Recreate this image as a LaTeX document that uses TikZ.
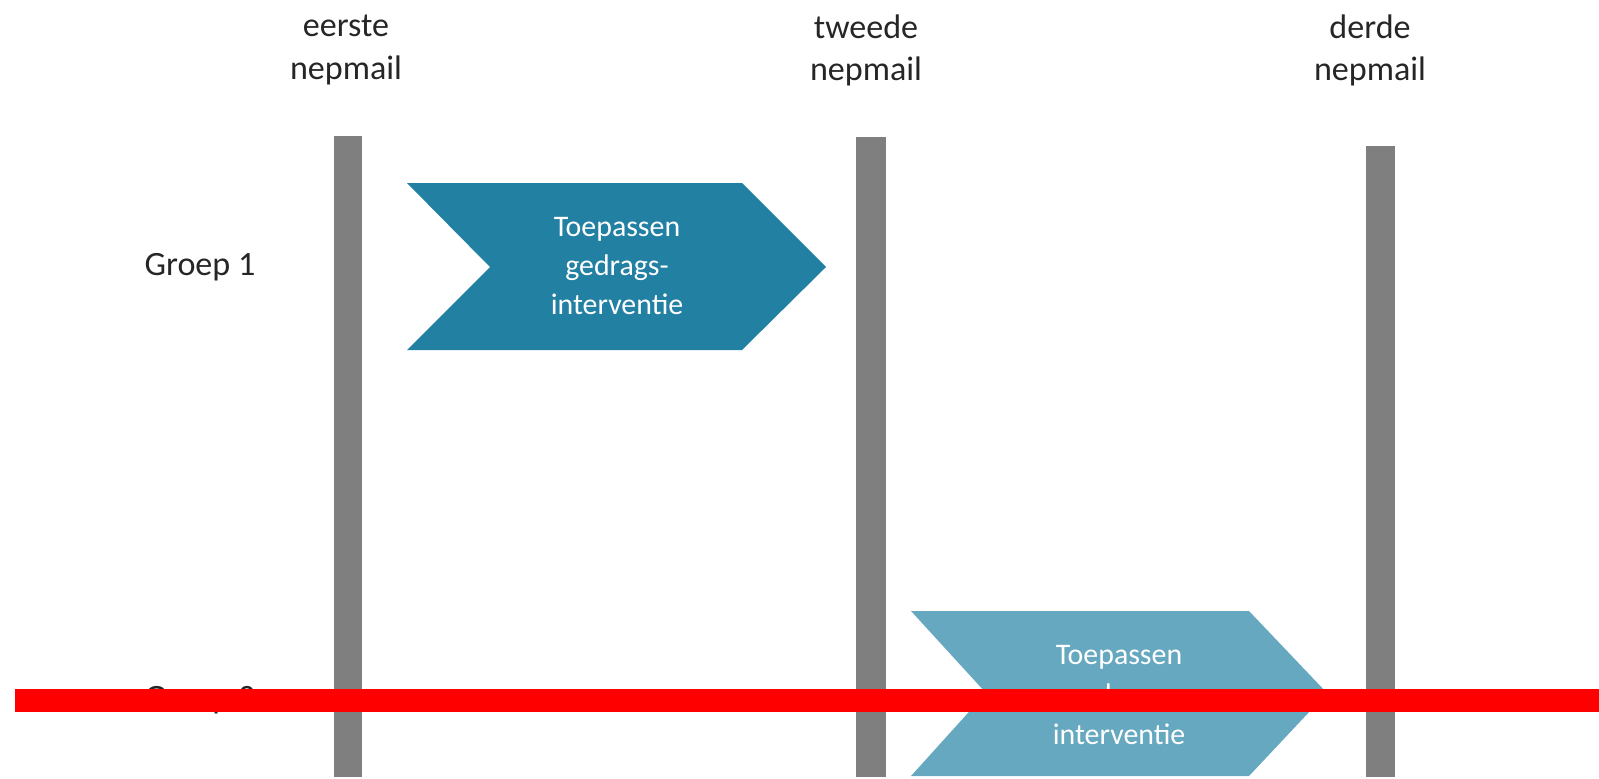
\documentclass[tikz,border=0pt]{standalone}
\usepackage{fontspec}
\setmainfont{Carlito}
\definecolor{bargray}{HTML}{7F7F7F}
\definecolor{darkteal}{HTML}{2280A3}
\definecolor{lightteal}{HTML}{66A8C0}
\definecolor{labelgray}{HTML}{262626}
\tikzset{
  header/.style={align=center, text=labelgray, font=\fontsize{19.4}{24}\selectfont},
  groep/.style={text=labelgray, font=\fontsize{19.4}{24}\selectfont},
  chevtext/.style={align=center, text=white, font=\fontsize{17}{22}\selectfont},
}
\begin{document}
\begin{tikzpicture}[x=0.02cm, y=-0.02cm]
\useasboundingbox (0,0) rectangle (1599,778);
% Draw the three time lines with their labels on top
\foreach \name/\xl/\xr/\yt/\xm in {eerste/334/362/136/346, tweede/856/886/137/866, derde/1366/1395/146/1370}
{
  \fill[bargray] (\xl,\yt) rectangle (\xr,777);
  \node[header] (\name) at (\xm,50) {\name\\nepmail};
}
% The groups on the left
\node[groep] (groep1) at (200,267) {Groep 1};
\node[groep] (groep2) at (200,700) {Groep 2};
% Chevron for group 1, between first and second mail
\fill[darkteal] (407,183) -- (742,183) -- (826,267) -- (742,350) -- (407,350) -- (490,267) -- cycle;
\node[chevtext] (interventie1) at (617,266) {Toepassen\\gedrags-\\interventie};
% Chevron for group 2, between second and third mail
\fill[lightteal] (911,611) -- (1249,611) -- (1327,693) -- (1249,776) -- (911,776) -- (986,693) -- cycle;
\node[chevtext, font=\fontsize{17}{22.6}\selectfont] (interventie2) at (1119,695) {Toepassen\\gedrags-\\interventie};
% red strip over the bottom row
\fill[red] (15,689) rectangle (1599,712);
\end{tikzpicture}
\end{document}
